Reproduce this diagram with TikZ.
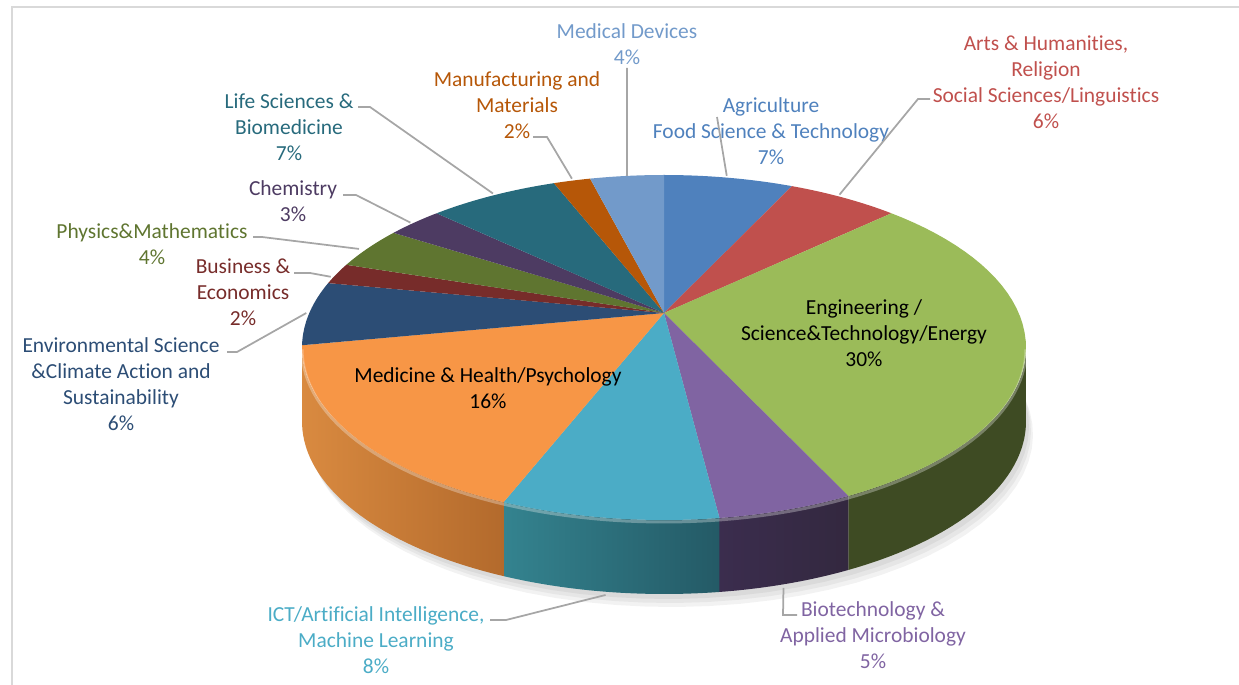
\documentclass[tikz,border=0pt]{standalone}
\usepackage{fontspec}
\setmainfont{Carlito}[RawFeature={-liga;-clig;-calt;-dlig}]

\definecolor{agri}{HTML}{4F81BD}
\definecolor{arts}{HTML}{C0504D}
\definecolor{engin}{HTML}{9BBB59}
\definecolor{biotech}{HTML}{8064A2}
\definecolor{ict}{HTML}{4BACC6}
\definecolor{medic}{HTML}{F79646}
\definecolor{envsci}{HTML}{2C4D75}
\definecolor{busin}{HTML}{772C2A}
\definecolor{physmath}{HTML}{5F7530}
\definecolor{chem}{HTML}{4D3B62}
\definecolor{lifesci}{HTML}{276A7C}
\definecolor{manuf}{HTML}{B65708}
\definecolor{meddev}{HTML}{729ACA}
\definecolor{enginside}{HTML}{3E4B23}
\definecolor{biotsideL}{HTML}{3B2D4E}
\definecolor{biotsideR}{HTML}{33283F}
\definecolor{ictsideL}{HTML}{34838F}
\definecolor{ictsideR}{HTML}{245A66}
\definecolor{medsideL}{HTML}{D98A40}
\definecolor{medsideR}{HTML}{B36A2C}
\definecolor{leadgray}{HTML}{A6A6A6}
\definecolor{framegray}{HTML}{D9D9D9}

\tikzset{
  lab/.style={align=center, inner sep=0pt, font=\fontsize{12.2}{14.8}\selectfont},
  leader/.style={draw=leadgray, line width=0.035cm},
  declare function={px(\t)=664+354.7*cos(\t)/(1+0.2*sin(\t));
                    py(\t)=313-165.6*sin(\t)/(1+0.2*sin(\t));}
}

% top face of a slice, from angle #1 to #2
\newcommand{\topslice}[3]{\fill[#3] (664,313) -- plot[domain=#1:#2,samples=40] ({px(\x)},{py(\x)}) -- cycle;}
% front wall of a slice
\newcommand{\sideslice}[4]{\shade[left color=#3,right color=#4] plot[domain=#1:#2,samples=40] ({px(\x)},{py(\x)}) -- plot[domain=#2:#1,samples=40] ({px(\x)},{py(\x)+74}) -- cycle;}

\begin{document}
\begin{tikzpicture}[x=0.02cm,y=-0.02cm]
\useasboundingbox (0,0) rectangle (1239,685);

\draw[framegray, line width=0.05cm] (12,685) -- (12,7) -- (1239,7);

% shadow
\fill[black, opacity=0.05] plot[domain=0:360,samples=90] ({px(\x)+3},{py(\x)+79}) -- cycle;
\fill[black, opacity=0.05] plot[domain=0:360,samples=90] ({px(\x)+5},{py(\x)+83}) -- cycle;
\fill[black, opacity=0.05] plot[domain=0:360,samples=90] ({px(\x)+7},{py(\x)+87}) -- cycle;

% walls
\sideslice{-11.54}{-64.8}{enginside}{enginside}
\sideslice{-64.8}{-82.8}{biotsideL}{biotsideR}
\sideslice{-82.8}{-111.6}{ictsideL}{ictsideR}
\sideslice{-111.6}{-168.46}{medsideL}{medsideR}

% top
\topslice{90}{64.8}{agri}
\topslice{64.8}{43.2}{arts}
\topslice{43.2}{-64.8}{engin}
\topslice{-64.8}{-82.8}{biotech}
\topslice{-82.8}{-111.6}{ict}
\topslice{-111.6}{-169.2}{medic}
\topslice{-169.2}{-190.8}{envsci}
\topslice{-190.8}{-198}{busin}
\topslice{-198}{-212.4}{physmath}
\topslice{-212.4}{-223.2}{chem}
\topslice{-223.2}{-248.4}{lifesci}
\topslice{-248.4}{-255.6}{manuf}
\topslice{-255.6}{-270}{meddev}

\draw[white, opacity=0.3, line width=0.06cm] plot[domain=-11.54:-168.46,samples=80] ({px(\x)},{py(\x)+2});

% labels
\node[lab, text=meddev] (meddevlab) at (627,44) {Medical Devices\\4\%};
\node[lab, text=manuf] (manuflab) at (517,105) {Manufacturing and\\Materials\\2\%};
\node[lab, text=lifesci] (lifelab) at (289,127.5) {Life Sciences \&\\Biomedicine\\7\%};
\node[lab, text=chem] (chemlab) at (293,201.5) {Chemistry\\3\%};
\node[lab, text=physmath] (physlab) at (152,244) {Physics\&Mathematics\\4\%};
\node[lab, text=busin] (businlab) at (243,292.5) {Business \&\\Economics\\2\%};
\node[lab, text=envsci] (envlab) at (121,384.5) {Environmental Science\\\&Climate Action and\\Sustainability\\6\%};
\node[lab, text=ict] (ictlab) at (376,640) {ICT/Artificial Intelligence,\\Machine Learning\\8\%};
\node[lab, text=biotech] (biotlab) at (873,635) {Biotechnology \&\\Applied Microbiology\\5\%};
\node[lab, text=agri] (agrilab) at (771,131.5) {Agriculture\\Food Science \& Technology\\7\%};
\node[lab, text=arts] (artslab) at (1046,82.5) {Arts \& Humanities,\\Religion\\Social Sciences/Linguistics\\6\%};
\node[lab] (enginlab) at (864,333.5) {Engineering /\\Science\&Technology/Energy\\30\%};
\node[lab] (mediclab) at (488,388) {Medicine \& Health/Psychology\\16\%};

% leader lines
\coordinate (meddevA) at (627,68);
\coordinate (meddevB) at ({px(97.2)},{py(97.2)});
\coordinate (manufA) at (533,137);
\coordinate (manufB) at ({px(108)},{py(108)-2});
\coordinate (lifeA) at (358,107);
\coordinate (lifeB) at ({px(124.2)},{py(124.2)-2});
\coordinate (chemA) at (343,195);
\coordinate (chemB) at ({px(142.2)-4},{py(142.2)});
\coordinate (physA) at (253,237);
\coordinate (physB) at ({px(155.2)-8},{py(155.2)});
\coordinate (businA) at (294,273);
\coordinate (businB) at ({px(165.6)-6},{py(165.6)+3});
\coordinate (envA) at (227,352);
\coordinate (envB) at ({px(180)-3},{py(180)});
\coordinate (ictA) at (490,620);
\coordinate (ictB) at ({px(-97.2)-3},{py(-97.2)+77});
\coordinate (biotA) at (797,615);
\coordinate (biotB) at ({px(-73.8)-3},{py(-73.8)+78});
\coordinate (agriA) at (717,117);
\coordinate (agriB) at ({px(77.4)-2},{py(77.4)-2});
\coordinate (artsA) at (930,99);
\coordinate (artsB) at ({px(54)-4},{py(54)-3});

\draw[leader] (meddevA) -- (meddevB);
\draw[leader] (manufA) -- ++(14,0) -- (manufB);
\draw[leader] (lifeA) -- ++(12,0) -- (lifeB);
\draw[leader] (chemA) -- ++(13,0) -- (chemB);
\draw[leader] (physA) -- ++(9,0) -- (physB);
\draw[leader] (businA) -- ++(16,0) -- (businB);
\draw[leader] (envA) -- ++(10,0) -- (envB);
\draw[leader] (ictA) -- ++(16,0) -- (ictB);
\draw[leader] (biotA) -- ++(-14,0) -- (biotB);
\draw[leader] (agriA) -- (agriB);
\draw[leader] (artsA) -- ++(-12,0) -- (artsB);
\end{tikzpicture}
\end{document}
